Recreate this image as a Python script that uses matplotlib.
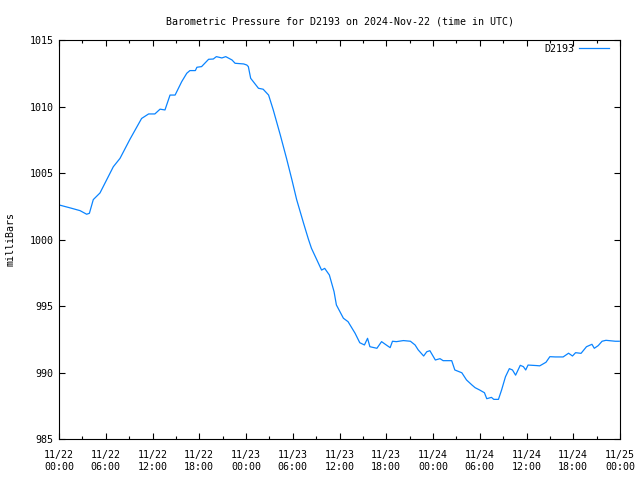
import numpy as np
import matplotlib
matplotlib.use('Agg')
import matplotlib.pyplot as plt
import matplotlib.dates as mdates
from datetime import datetime as dt, timedelta

plt.rc('font', family='DejaVu Sans Mono', size=7.2)
plt.rc('axes', linewidth=0.8)

station = 'D2193'
start = dt(2024, 11, 22)

# hours since 2024-11-22 00:00 UTC, pressure in mbar
hours = [0.0, 1.6, 2.7, 3.55, 3.9, 4.4, 5.26, 6.97, 7.83, 9.1, 10.6, 11.5, 12.3,
         12.97, 13.6, 14.25, 14.9, 15.75, 16.4, 16.8, 17.5, 17.7, 18.3, 19.2,
         19.8, 20.2, 20.9, 21.4, 22.2, 22.6, 23.7, 24.1, 24.3, 24.6, 25.6, 26.2,
         26.9, 27.5, 28.4, 29.2, 29.9, 30.5, 31.4, 32.0, 32.4, 33.1, 33.7, 34.1,
         34.7, 35.3, 35.6, 36.5, 37.1, 38.0, 38.6, 39.2, 39.6, 39.9, 40.8, 41.4,
         42.0, 42.5, 42.8, 43.3, 44.2, 45.1, 45.7, 46.1, 46.8, 47.2, 47.6, 48.3,
         48.9, 49.3, 50.4, 50.8, 51.7, 52.3, 53.0, 53.4, 54.0, 54.6, 54.9, 55.5,
         55.8, 56.4, 56.8, 57.3, 57.8, 58.2, 58.6, 59.2, 59.6, 59.9, 60.2, 61.3,
         61.7, 62.5, 63.0, 63.7, 64.7, 65.4, 65.9, 66.3, 67.0, 67.7, 68.4, 68.7,
         69.2, 69.7, 70.2, 71.4, 71.9]
pressure = [1002.6, 1002.35, 1002.17, 1001.9, 1001.97, 1003.0, 1003.5, 1005.47,
            1006.1, 1007.53, 1009.1, 1009.44, 1009.44, 1009.8, 1009.74, 1010.86,
            1010.86, 1011.87, 1012.5, 1012.7, 1012.7, 1012.95, 1013.0, 1013.55,
            1013.57, 1013.75, 1013.65, 1013.75, 1013.5, 1013.25, 1013.2, 1013.12,
            1013.0, 1012.12, 1011.37, 1011.3, 1010.86, 1009.74, 1007.86, 1006.1,
            1004.47, 1003.0, 1001.2, 1000.04, 999.34, 998.46, 997.7, 997.83,
            997.33, 996.08, 995.08, 994.08, 993.82, 992.95, 992.24, 992.07,
            992.57, 991.94, 991.82, 992.32, 992.07, 991.87, 992.35, 992.32,
            992.4, 992.35, 992.07, 991.7, 991.24, 991.56, 991.64, 990.94, 991.04,
            990.89, 990.89, 990.19, 989.98, 989.44, 989.06, 988.86, 988.68,
            988.48, 988.03, 988.13, 987.98, 987.98, 988.68, 989.68, 990.29,
            990.19, 989.8, 990.54, 990.44, 990.19, 990.56, 990.52, 990.5,
            990.77, 991.19, 991.17, 991.17, 991.45, 991.24, 991.49, 991.44,
            991.94, 992.12, 991.82, 992.02, 992.35, 992.42, 992.35, 992.35]

times = [start + timedelta(hours=h) for h in hours]

fig = plt.figure(figsize=(6.4, 4.8), dpi=100)
ax = fig.add_axes([59/640, 1 - 439/480, 561/640, 399/480])
ax.plot(times, pressure, color='#0a84ff', lw=0.9, label=station)

ax.set_xlim(start, start + timedelta(days=3))
ax.set_ylim(985, 1015)
ax.set_yticks(np.arange(985, 1016, 5))
ax.xaxis.set_major_locator(mdates.HourLocator(byhour=[0, 6, 12, 18]))
ax.xaxis.set_minor_locator(mdates.HourLocator(byhour=[3, 9, 15, 21]))
ax.xaxis.set_major_formatter(mdates.DateFormatter('%m/%d\n%H:%M'))
ax.tick_params(which='both', direction='in', top=True, right=True, width=0.8)
ax.tick_params(which='major', length=4, pad=4)
ax.tick_params(axis='x', which='major', pad=8)
ax.tick_params(which='minor', length=2)

ax.set_title('Barometric Pressure for %s on 2024-Nov-22 (time in UTC)' % station,
             fontsize=7.2, pad=11)
ax.set_ylabel('milliBars', labelpad=10)
ax.legend(loc='upper right', frameon=False, markerfirst=False,
          handlelength=3.0, handletextpad=0.5, borderaxespad=0.3,
          bbox_to_anchor=(1 - 4/561, 1 + 3/399))

fig.savefig('out.png', dpi=100)
